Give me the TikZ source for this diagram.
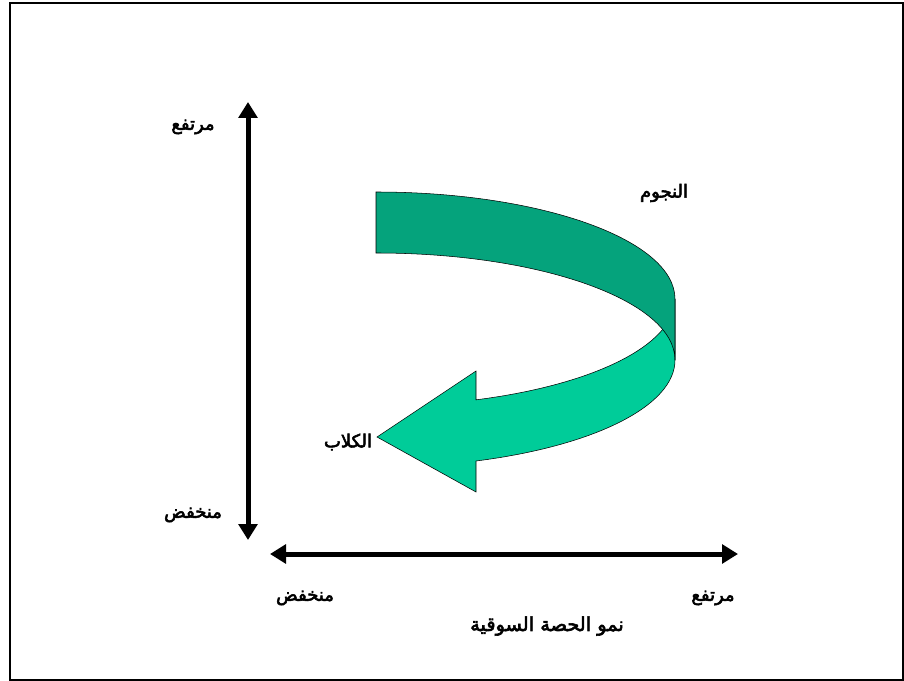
\documentclass[tikz,border=0pt]{standalone}
\usepackage{fontspec}
\newfontfamily\arabicfont[Script=Arabic,FakeBold=3]{DejaVu Sans}
\TeXXeTstate=1
\usetikzlibrary{arrows.meta}
\definecolor{cBack}{HTML}{05A37C}
\definecolor{cFront}{HTML}{00CC99}
\tikzset{
  lbl/.style={font=\arabicfont\fontsize{13.5}{15}\selectfont,inner sep=0pt},
  ttl/.style={font=\arabicfont\fontsize{14.5}{17}\selectfont,inner sep=0pt},
  axis/.style={{Triangle[length=12pt,width=14pt]}-{Triangle[length=12pt,width=14pt]},line width=3.75pt},
  face/.style={draw=black,line width=0.4pt},
}

\begin{document}
\begin{tikzpicture}[x=0.75pt,y=-0.75pt]
  \useasboundingbox (0,0) rectangle (904,681);
  \draw[line width=1.5pt] (9.5,3) rectangle (903,680);
  % axes
  \coordinate (yTop) at (248,102);
  \coordinate (yBot) at (248,540);
  \coordinate (xLeft) at (270,554);
  \coordinate (xRight) at (738,554);
  \draw[axis] (yBot) -- (yTop);
  \draw[axis] (xLeft) -- (xRight);
  \node[lbl] (yHigh) at (193,127) {\beginR مرتفع\endR};
  \node[lbl] (yLow) at (193,515) {\beginR منخفض\endR};
  \node[lbl] (xLow) at (305,598) {\beginR منخفض\endR};
  \node[lbl] (xHigh) at (713,598) {\beginR مرتفع\endR};
  \node[ttl] (title) at (547,626) {\beginR نمو الحصة السوقية\endR};
  % curved arrow, front face then back face
  \path[face,fill=cFront] (476,400) -- (476,371) -- (377,437) -- (476,492) -- (476,461)
    arc[start angle=70.46,end angle=0,x radius=299,y radius=107] -- (675,299)
    arc[start angle=0,end angle=70.46,x radius=299,y radius=107] -- cycle;
  \path[face,fill=cBack] (376,192)
    arc[start angle=270,end angle=360,x radius=299,y radius=107] -- (675,360)
    arc[start angle=0,end angle=-90,x radius=299,y radius=107] -- cycle;
  \node[lbl] (stars) at (664,193) {\beginR النجوم\endR};
  \node[lbl] (dogs) at (348,442) {\beginR الكلاب\endR};
\end{tikzpicture}
\end{document}
